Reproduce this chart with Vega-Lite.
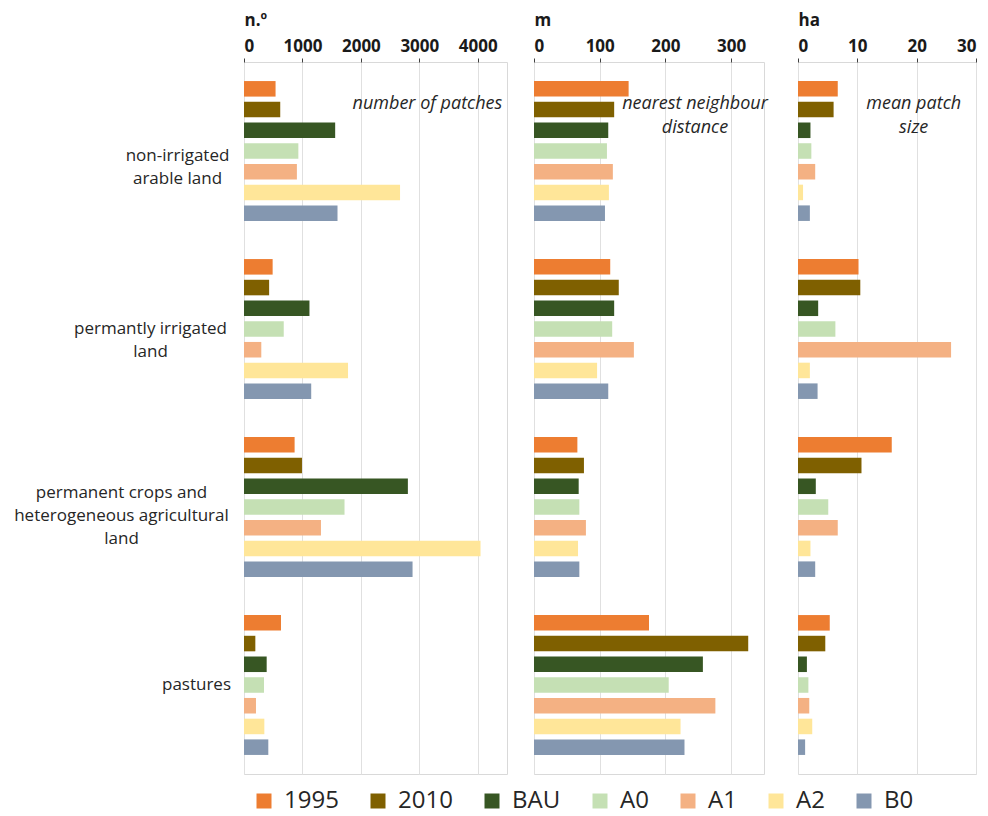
{
  "$schema": "https://vega.github.io/schema/vega-lite/v6.json",
  "background": "white",
  "padding": {"left": 13, "top": 10, "right": 5, "bottom": 5},
  "spacing": 27,
  "bounds": "flush",
  "config": {
    "font": "Open Sans",
    "view": {"stroke": "#d9d9d9", "strokeWidth": 1},
    "axis": {
      "gridColor": "#e0e0e0",
      "gridWidth": 1,
      "domain": false,
      "labelColor": "#1a1a1a",
      "titleColor": "#1a1a1a"
    }
  },
  "datasets": {
    "d": [
      {"category": "non-irrigated arable land", "series": "1995", "patches": 540, "nnd": 144, "mps": 6.7},
      {"category": "non-irrigated arable land", "series": "2010", "patches": 620, "nnd": 122, "mps": 6.0},
      {"category": "non-irrigated arable land", "series": "BAU", "patches": 1560, "nnd": 113, "mps": 2.1},
      {"category": "non-irrigated arable land", "series": "A0", "patches": 930, "nnd": 111, "mps": 2.25},
      {"category": "non-irrigated arable land", "series": "A1", "patches": 905, "nnd": 120, "mps": 2.9},
      {"category": "non-irrigated arable land", "series": "A2", "patches": 2670, "nnd": 114, "mps": 0.85},
      {"category": "non-irrigated arable land", "series": "B0", "patches": 1600, "nnd": 108, "mps": 2.0},
      {"category": "permantly irrigated land", "series": "1995", "patches": 490, "nnd": 116, "mps": 10.2},
      {"category": "permantly irrigated land", "series": "2010", "patches": 430, "nnd": 129, "mps": 10.5},
      {"category": "permantly irrigated land", "series": "BAU", "patches": 1120, "nnd": 122, "mps": 3.4},
      {"category": "permantly irrigated land", "series": "A0", "patches": 680, "nnd": 119, "mps": 6.3},
      {"category": "permantly irrigated land", "series": "A1", "patches": 296, "nnd": 152, "mps": 25.8},
      {"category": "permantly irrigated land", "series": "A2", "patches": 1780, "nnd": 96, "mps": 2.0},
      {"category": "permantly irrigated land", "series": "B0", "patches": 1150, "nnd": 113, "mps": 3.3},
      {"category": "permanent crops and heterogeneous agricultural land", "series": "1995", "patches": 866, "nnd": 66, "mps": 15.8},
      {"category": "permanent crops and heterogeneous agricultural land", "series": "2010", "patches": 992, "nnd": 76, "mps": 10.7},
      {"category": "permanent crops and heterogeneous agricultural land", "series": "BAU", "patches": 2804, "nnd": 68, "mps": 3.0},
      {"category": "permanent crops and heterogeneous agricultural land", "series": "A0", "patches": 1720, "nnd": 69, "mps": 5.1},
      {"category": "permanent crops and heterogeneous agricultural land", "series": "A1", "patches": 1317, "nnd": 79, "mps": 6.7},
      {"category": "permanent crops and heterogeneous agricultural land", "series": "A2", "patches": 4047, "nnd": 67, "mps": 2.1},
      {"category": "permanent crops and heterogeneous agricultural land", "series": "B0", "patches": 2884, "nnd": 69, "mps": 2.9},
      {"category": "pastures", "series": "1995", "patches": 633, "nnd": 175, "mps": 5.35},
      {"category": "pastures", "series": "2010", "patches": 194, "nnd": 326, "mps": 4.6},
      {"category": "pastures", "series": "BAU", "patches": 388, "nnd": 257, "mps": 1.5},
      {"category": "pastures", "series": "A0", "patches": 342, "nnd": 205, "mps": 1.75},
      {"category": "pastures", "series": "A1", "patches": 205, "nnd": 276, "mps": 1.9},
      {"category": "pastures", "series": "A2", "patches": 348, "nnd": 223, "mps": 2.4},
      {"category": "pastures", "series": "B0", "patches": 416, "nnd": 229, "mps": 1.2}
    ]
  },
  "data": {"name": "d"},
  "hconcat": [
    {
      "width": 263,
      "height": 712,
      "layer": [
        {
          "mark": {"type": "bar"},
          "encoding": {
            "y": {
              "field": "category", "type": "nominal",
              "sort": ["non-irrigated arable land", "permantly irrigated land", "permanent crops and heterogeneous agricultural land", "pastures"],
              "scale": {"paddingInner": 0.185, "paddingOuter": 0.0925},
              "axis": {
                "title": null,
                "ticks": false,
                "tickSize": 0,
                "grid": false,
                "labelFontSize": 17,
                "labelColor": "#262626",
                "labelLimit": 400,
                "labelLineHeight": 23,
                "labelAlign": "center",
                "labelBaseline": "middle",
                "labelExpr": "datum.value === 'non-irrigated arable land' ? ['non-irrigated', 'arable land'] : datum.value === 'permantly irrigated land' ? ['permantly irrigated', 'land'] : datum.value === 'permanent crops and heterogeneous agricultural land' ? ['permanent crops and', 'heterogeneous agricultural', 'land'] : datum.label",
                "labelPadding": {"expr": "datum.value === 'non-irrigated arable land' ? 67 : datum.value === 'permantly irrigated land' ? 94 : datum.value === 'permanent crops and heterogeneous agricultural land' ? 123 : 48"},
                "labelOffset": {"expr": "datum.value === 'non-irrigated arable land' ? 5 : datum.value === 'permantly irrigated land' ? 0 : datum.value === 'permanent crops and heterogeneous agricultural land' ? -14 : 0"}
              }
            },
            "yOffset": {
              "field": "series", "type": "nominal",
              "sort": ["1995", "2010", "BAU", "A0", "A1", "A2", "B0"],
              "scale": {"paddingInner": 0.25, "paddingOuter": 0.125}
            },
            "x": {
              "field": "patches", "type": "quantitative",
              "scale": {"domain": [0, 4500], "nice": false},
              "axis": {
                "orient": "top",
                "title": "n.º",
                "titleAnchor": "start",
                "titleAlign": "left",
                "titleFontSize": 17,
                "titleFontWeight": "bold",
                "titlePadding": 8,
                "values": [0, 500, 1000, 1500, 2000, 2500, 3000, 3500, 4000, 4500],
                "labelExpr": "datum.value % 1000 === 0 && datum.value < 4500 ? datum.label : ''",
                "format": "d",
                "labelFontSize": 17,
                "labelFontWeight": "bold",
                "labelPadding": 3,
                "tickSize": 4,
                "tickColor": "#404040",
                "tickOpacity": {"expr": "datum.value % 1000 === 0 ? 1 : 0"}
              }
            },
            "color": {
              "field": "series", "type": "nominal",
              "scale": {
                "domain": ["1995", "2010", "BAU", "A0", "A1", "A2", "B0"],
                "range": ["#ED7D31", "#7F6000", "#375623", "#C5E0B4", "#F4B183", "#FFE699", "#8497B0"]
              },
              "legend": {
                "title": null,
                "orient": "none",
                "direction": "horizontal",
                "legendX": 8,
                "legendY": 727,
                "symbolType": "square",
                "symbolSize": 225,
                "symbolStrokeWidth": 0,
                "symbolOpacity": 1,
                "labelFontSize": 24,
                "labelColor": "#262626",
                "labelOffset": 8,
                "columnPadding": 27
              }
            }
          }
        },
        {
          "data": {"values": [{}]},
          "mark": {"type": "text", "align": "right", "baseline": "middle", "fontStyle": "italic", "fontWeight": "normal", "fontSize": 18, "color": "#262626", "dy": -6},
          "encoding": {
            "x": {"datum": 4420, "type": "quantitative"},
            "y": {"datum": "non-irrigated arable land", "type": "nominal"},
            "yOffset": {"datum": "2010", "type": "nominal"},
            "text": {"value": "number of patches"}
          }
        }
      ]
    },
    {
      "spacing": 34,
      "bounds": "flush",
      "hconcat": [
        {
          "width": 230,
          "height": 712,
          "layer": [
            {
              "mark": {"type": "bar"},
              "encoding": {
                "y": {
                  "field": "category", "type": "nominal",
                  "sort": ["non-irrigated arable land", "permantly irrigated land", "permanent crops and heterogeneous agricultural land", "pastures"],
                  "scale": {"paddingInner": 0.185, "paddingOuter": 0.0925},
                  "axis": null
                },
                "yOffset": {
                  "field": "series", "type": "nominal",
                  "sort": ["1995", "2010", "BAU", "A0", "A1", "A2", "B0"],
                  "scale": {"paddingInner": 0.25, "paddingOuter": 0.125}
                },
                "x": {
                  "field": "nnd", "type": "quantitative",
                  "scale": {"domain": [0, 350], "nice": false},
                  "axis": {
                    "orient": "top",
                    "title": "m",
                    "titleAnchor": "start",
                    "titleAlign": "left",
                    "titleFontSize": 17,
                    "titleFontWeight": "bold",
                    "titlePadding": 8,
                    "values": [0, 50, 100, 150, 200, 250, 300, 350],
                    "labelExpr": "datum.value % 100 === 0 ? datum.label : ''",
                    "format": "d",
                    "labelFontSize": 17,
                    "labelFontWeight": "bold",
                    "labelPadding": 3,
                    "tickSize": 4,
                    "tickColor": "#404040",
                    "tickOpacity": {"expr": "datum.value % 100 === 0 ? 1 : 0"}
                  }
                },
                "color": {
                  "field": "series", "type": "nominal",
                  "scale": {
                    "domain": ["1995", "2010", "BAU", "A0", "A1", "A2", "B0"],
                    "range": ["#ED7D31", "#7F6000", "#375623", "#C5E0B4", "#F4B183", "#FFE699", "#8497B0"]
                  }
                }
              }
            },
            {
              "data": {"values": [{}]},
              "mark": {"type": "text", "align": "center", "baseline": "middle", "fontStyle": "italic", "fontWeight": "normal", "fontSize": 18, "color": "#262626", "dy": -6, "lineHeight": 24},
              "encoding": {
                "x": {"datum": 245, "type": "quantitative"},
                "y": {"datum": "non-irrigated arable land", "type": "nominal"},
                "yOffset": {"datum": "2010", "type": "nominal"},
                "text": {"value": ["nearest neighbour", "distance"]}
              }
            }
          ]
        },
        {
          "width": 178,
          "height": 712,
          "layer": [
            {
              "mark": {"type": "bar"},
              "encoding": {
                "y": {
                  "field": "category", "type": "nominal",
                  "sort": ["non-irrigated arable land", "permantly irrigated land", "permanent crops and heterogeneous agricultural land", "pastures"],
                  "scale": {"paddingInner": 0.185, "paddingOuter": 0.0925},
                  "axis": null
                },
                "yOffset": {
                  "field": "series", "type": "nominal",
                  "sort": ["1995", "2010", "BAU", "A0", "A1", "A2", "B0"],
                  "scale": {"paddingInner": 0.25, "paddingOuter": 0.125}
                },
                "x": {
                  "field": "mps", "type": "quantitative",
                  "scale": {"domain": [0, 30], "nice": false},
                  "axis": {
                    "orient": "top",
                    "title": "ha",
                    "titleAnchor": "start",
                    "titleAlign": "left",
                    "titleFontSize": 17,
                    "titleFontWeight": "bold",
                    "titlePadding": 8,
                    "values": [0, 5, 10, 15, 20, 25, 30],
                    "labelExpr": "datum.value % 10 === 0 ? datum.label : ''",
                    "format": "d",
                    "labelFontSize": 17,
                    "labelFontWeight": "bold",
                    "labelPadding": 3,
                    "tickSize": 4,
                    "tickColor": "#404040",
                    "tickOpacity": {"expr": "datum.value % 10 === 0 ? 1 : 0"}
                  }
                },
                "color": {
                  "field": "series", "type": "nominal",
                  "scale": {
                    "domain": ["1995", "2010", "BAU", "A0", "A1", "A2", "B0"],
                    "range": ["#ED7D31", "#7F6000", "#375623", "#C5E0B4", "#F4B183", "#FFE699", "#8497B0"]
                  }
                }
              }
            },
            {
              "data": {"values": [{}]},
              "mark": {"type": "text", "align": "center", "baseline": "middle", "fontStyle": "italic", "fontWeight": "normal", "fontSize": 18, "color": "#262626", "dy": -6, "lineHeight": 24},
              "encoding": {
                "x": {"datum": 19.5, "type": "quantitative"},
                "y": {"datum": "non-irrigated arable land", "type": "nominal"},
                "yOffset": {"datum": "2010", "type": "nominal"},
                "text": {"value": ["mean patch", "size"]}
              }
            }
          ]
        }
      ]
    }
  ]
}
